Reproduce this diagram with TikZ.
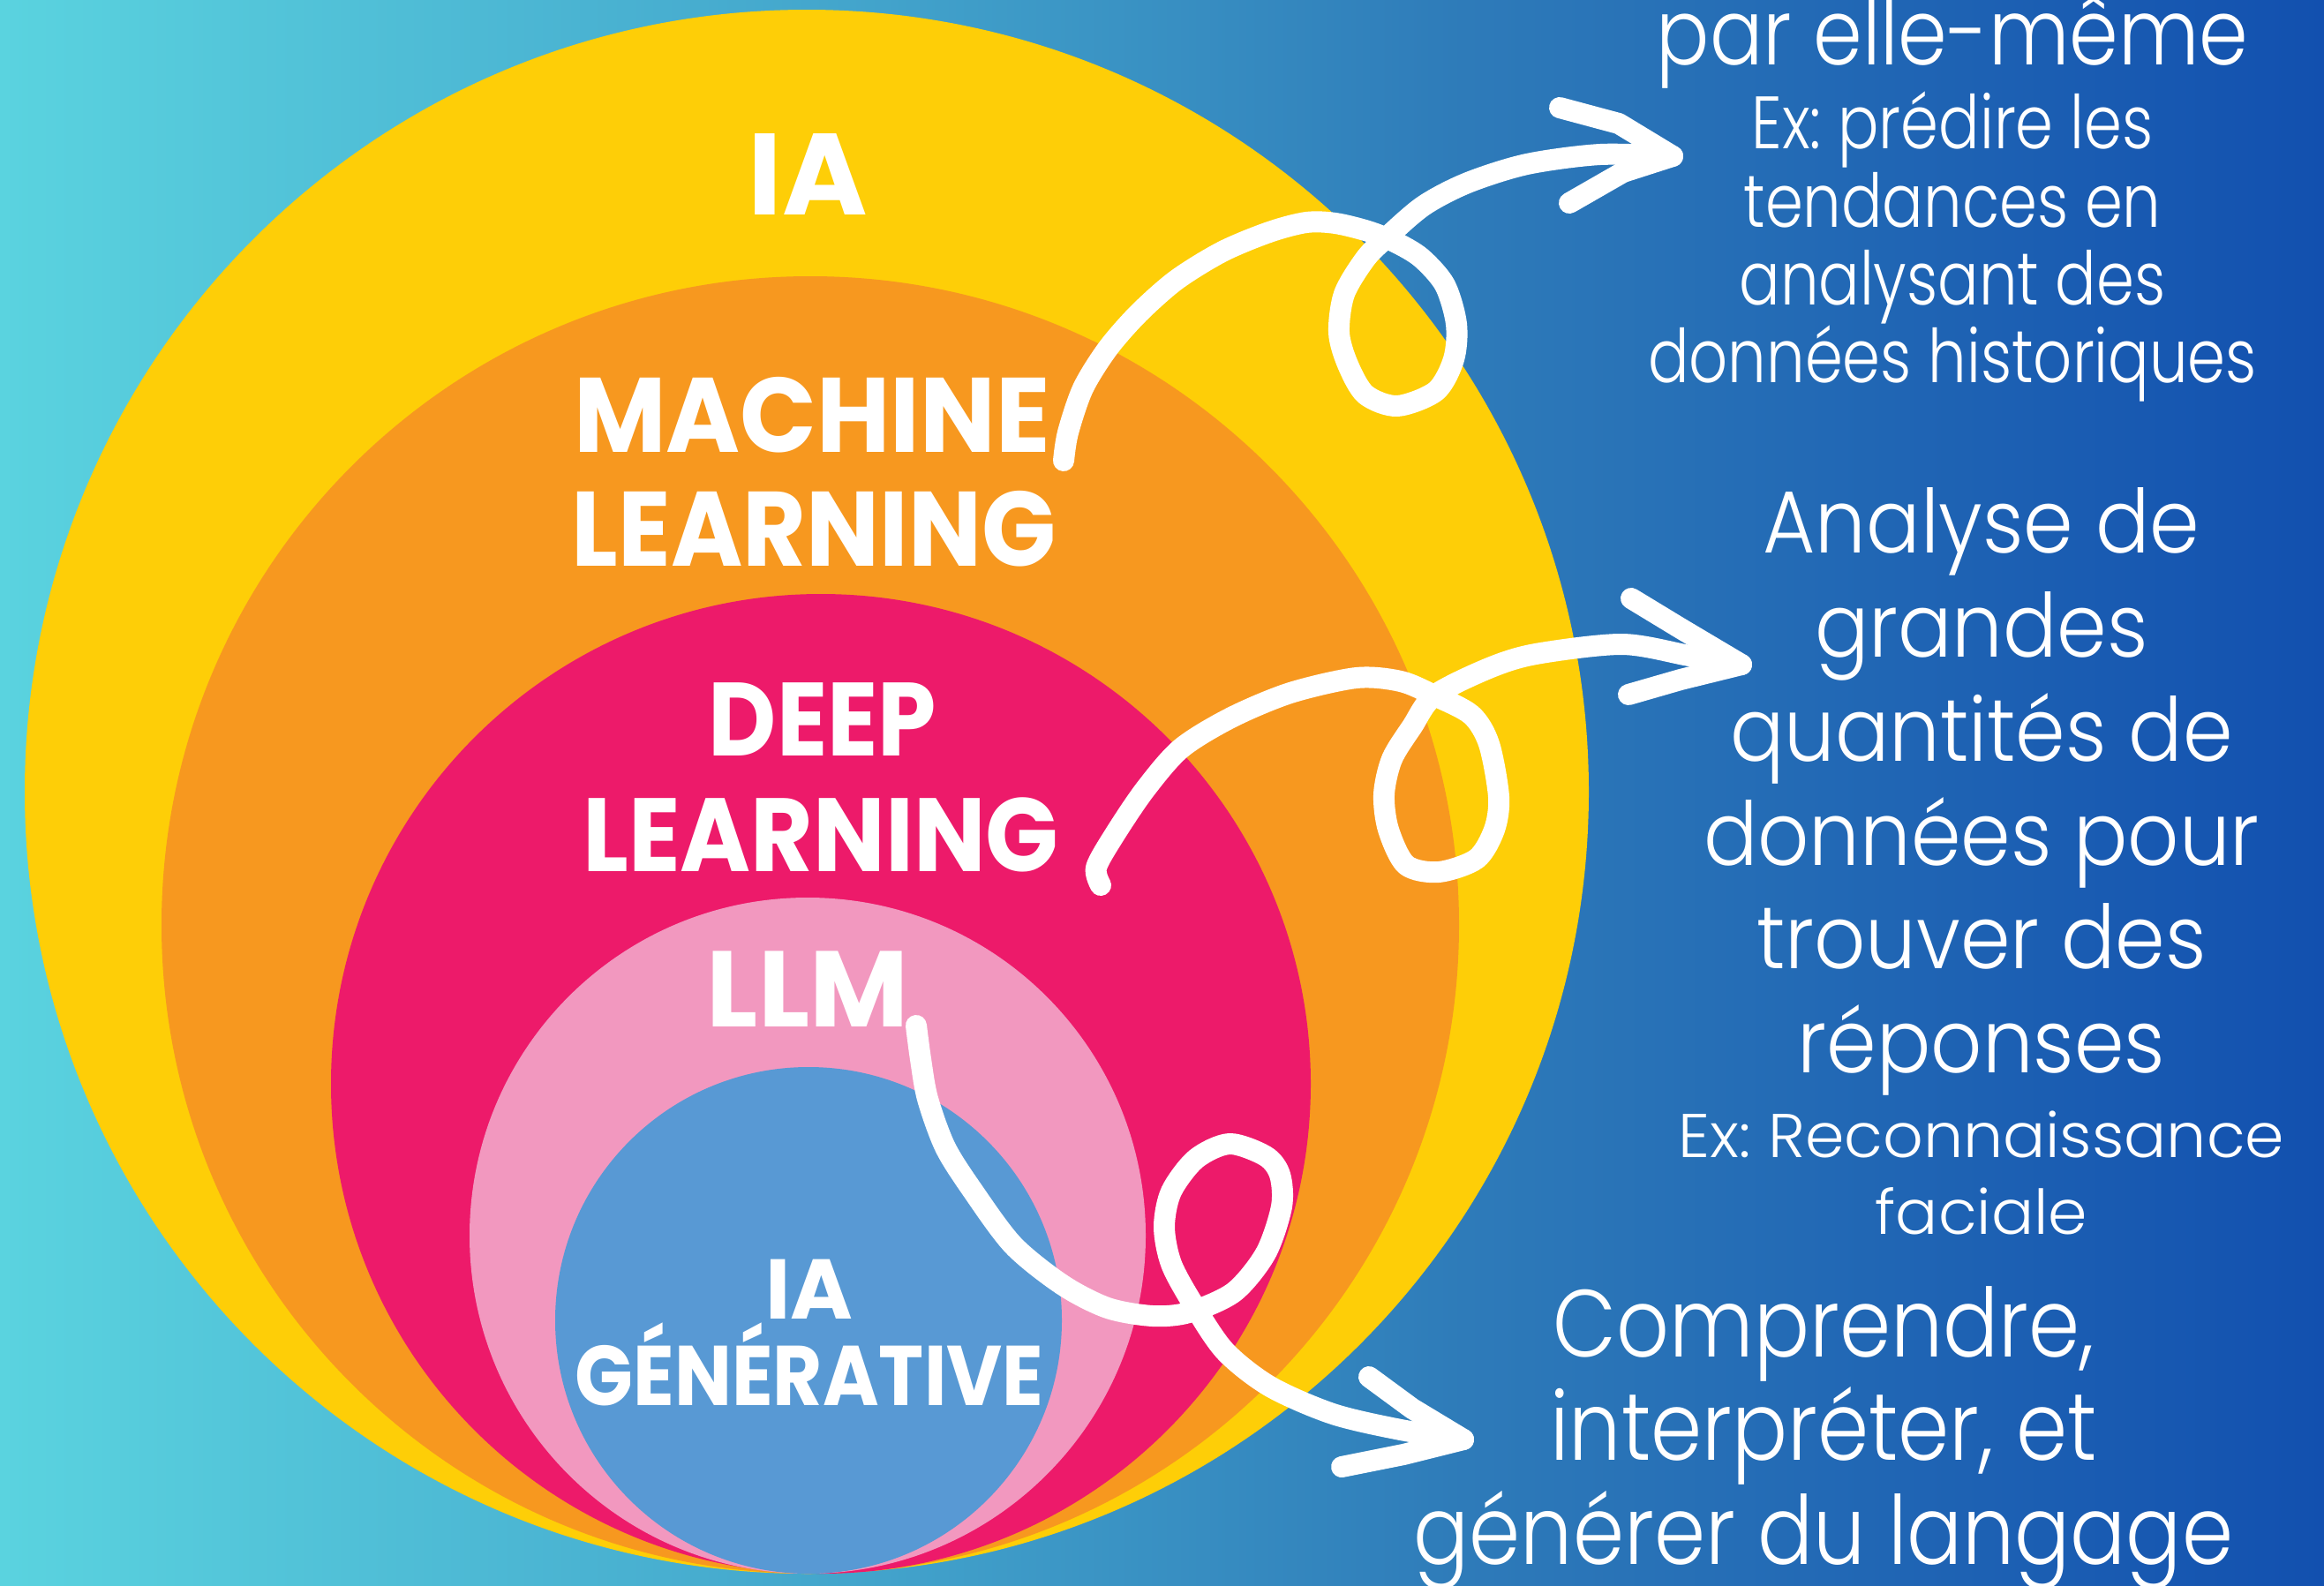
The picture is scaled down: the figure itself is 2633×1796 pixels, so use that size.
\documentclass[tikz,border=0pt]{standalone}
\usepackage{fontspec}
\setmainfont{Poppins}
\frenchspacing
\newfontfamily\narrowfont{Poppins Light}[FakeStretch=0.82]
\newfontfamily\parfont{Poppins Light}[FakeStretch=0.86]
\newfontfamily\comfont{Poppins Light}[FakeStretch=0.865]
\newfontfamily\midfont{Poppins Light}[FakeStretch=0.91]
\newfontfamily\exfont{Poppins Light}[FakeStretch=1.02]
\newfontfamily\labA{Poppins}[FakeStretch=0.95]
\newfontfamily\labB{Poppins}[FakeStretch=0.92]
\newfontfamily\labC{Poppins}[FakeStretch=0.9]
\definecolor{bgA}{HTML}{5AD3DF}
\definecolor{bgB}{HTML}{42A3CB}
\definecolor{bgC}{HTML}{2E7BB9}
\definecolor{bgD}{HTML}{1250AF}
\definecolor{cYellow}{HTML}{FECE07}
\definecolor{cOrange}{HTML}{F7981F}
\definecolor{cMagenta}{HTML}{ED1A6A}
\definecolor{cPink}{HTML}{F298BF}
\definecolor{cBlue}{HTML}{5899D4}
\pgfdeclarehorizontalshading{bgshade}{100bp}{color(0bp)=(bgA); color(25bp)=(bgA); color(44bp)=(bgB); color(56.5bp)=(bgC); color(75bp)=(bgD); color(100bp)=(bgD)}
\begin{document}
\begin{tikzpicture}[x=1pt,y=-1pt,
  disc/.style={circle, inner sep=0pt, draw=none},
  lab/.style={text=white, inner sep=0pt, anchor=base},
  rtxt/.style={text=white, inner sep=0pt, anchor=base},
  arrowline/.style={draw=white, line width=24pt, line cap=round, line join=round}]
\shade[shading=bgshade] (0,0) rectangle (2633,1796);
\useasboundingbox (0,0) rectangle (2633,1796);
% nested circles
\node[disc, fill=cYellow, minimum size=1772pt] (ia) at (914,897) {};
\node[disc, fill=cOrange, minimum size=1470pt] (ml) at (918,1048) {};
\node[disc, fill=cMagenta, minimum size=1110pt] (dl) at (930,1228) {};
\node[disc, fill=cPink, minimum size=766pt] (llm) at (915,1400) {};
\node[disc, fill=cBlue, minimum size=574pt] (gen) at (916,1496) {};
% labels
\node[lab, font=\bfseries\fontsize{131}{140}\selectfont] (tIA) at (915,243) {IA};
\node[lab, font=\labA\bfseries\fontsize{120}{130}\selectfont] (tML1) at (920,512) {MACHINE};
\node[lab, font=\labB\bfseries\fontsize{120}{130}\selectfont] (tML2) at (922,641) {LEARNING};
\node[lab, font=\labC\bfseries\fontsize{118}{130}\selectfont] (tDL1) at (932,856) {DEEP};
\node[lab, font=\labB\bfseries\fontsize{118}{130}\selectfont] (tDL2) at (930,987) {LEARNING};
\node[lab, font=\bfseries\fontsize{122}{130}\selectfont] (tLLM) at (915,1163) {LLM};
\node[lab, font=\bfseries\fontsize{96}{110}\selectfont] (tG1) at (917,1494) {IA};
\node[lab, font=\labC\bfseries\fontsize{96}{110}\selectfont] (tG2) at (917,1592) {GÉNÉRATIVE};
% right texts, block 1
\node[rtxt, font=\parfont\fontsize{104}{110}\selectfont] (b1a) at (2212,73) {par elle-même};
\node[rtxt, font=\narrowfont\fontsize{84}{90}\selectfont] (b1b) at (2212,168) {Ex: prédire les};
\node[rtxt, font=\narrowfont\fontsize{84}{90}\selectfont] (b1c) at (2212,257) {tendances en};
\node[rtxt, font=\narrowfont\fontsize{84}{90}\selectfont] (b1d) at (2212,345) {analysant des};
\node[rtxt, font=\narrowfont\fontsize{84}{90}\selectfont] (b1e) at (2212,433) {données historiques};
% block 2
\node[rtxt, font=\midfont\fontsize{100}{110}\selectfont] (b2a) at (2245,626) {Analyse de};
\node[rtxt, font=\midfont\fontsize{100}{110}\selectfont] (b2b) at (2245,744) {grandes};
\node[rtxt, font=\midfont\fontsize{100}{110}\selectfont] (b2c) at (2245,862) {quantités de};
\node[rtxt, font=\midfont\fontsize{100}{110}\selectfont] (b2d) at (2245,980) {données pour};
\node[rtxt, font=\midfont\fontsize{100}{110}\selectfont] (b2e) at (2245,1097) {trouver des};
\node[rtxt, font=\midfont\fontsize{100}{110}\selectfont] (b2f) at (2245,1215) {réponses};
\node[rtxt, font=\exfont\fontsize{70}{80}\selectfont] (b2g) at (2245,1311) {Ex: Reconnaissance};
\node[rtxt, font=\exfont\fontsize{70}{80}\selectfont] (b2h) at (2245,1398) {faciale};
% block 3
\node[rtxt, font=\comfont\fontsize{108}{116}\selectfont] (b3a) at (2066,1537) {Comprendre,};
\node[rtxt, font=\comfont\fontsize{108}{116}\selectfont] (b3b) at (2066,1654) {interpréter, et};
\node[rtxt, font=\comfont\fontsize{108}{116}\selectfont] (b3c) at (2066,1772) {générer du langage};
% arrow 1 (machine learning)
\coordinate (a1s) at (1205,522);
\coordinate (a1t) at (1895,177);
\coordinate (a1u) at (1767,122);
\coordinate (a1l) at (1778,230);
\draw[arrowline] plot[smooth, tension=0.5] coordinates {(a1s) (1210,490) (1227,440) (1255,395) (1290,355) (1333,317) (1385,285) (1438,263) (1480,252) (1513,253) (1550,262) (1580,274) (1610,292) (1637,323) (1650,367) (1647,407) (1627,443) (1583,460) (1547,447) (1527,413) (1517,377) (1523,333) (1547,293) (1570,270) (1613,233) (1663,207) (1730,186) (1813,175) (a1t)};
\draw[arrowline] (a1u) -- (1834,140) -- (a1t) -- (1839,195) -- (a1l);
% arrow 2 (deep learning)
\coordinate (a2s) at (1247,1003);
\coordinate (a2t) at (1973,753);
\coordinate (a2u) at (1848,678);
\coordinate (a2l) at (1845,787);
\draw[arrowline] plot[smooth, tension=0.5] coordinates {(a2s) (1242,983) (1262,947) (1297,895) (1338,848) (1395,813) (1462,785) (1537,768) (1587,772) (1625,788) (1667,810) (1687,843) (1698,903) (1693,940) (1673,973) (1630,988) (1593,980) (1573,940) (1568,900) (1577,860) (1600,823) (1625,788) (1687,757) (1740,741) (1838,730) (1914,743) (a2t)};
\draw[arrowline] (a2u) -- (1904,712) -- (a2t) -- (1904,770) -- (a2l);
% arrow 3 (LLM)
\coordinate (a3s) at (1038,1162);
\coordinate (a3t) at (1658,1631);
\coordinate (a3u) at (1551,1560);
\coordinate (a3l) at (1520,1662);
\draw[arrowline] plot[smooth, tension=0.5] coordinates {(a3s) (1043,1200) (1051,1245) (1071,1300) (1102,1349) (1148,1411) (1204,1456) (1255,1482) (1306,1491) (1347,1487) (1398,1464) (1434,1420) (1452,1367) (1450,1331) (1434,1310) (1393,1296) (1355,1313) (1327,1350) (1319,1390) (1327,1432) (1352,1478) (1388,1531) (1439,1571) (1510,1602) (1587,1620) (a3t)};
\draw[arrowline] (a3u) -- (1600,1596) -- (a3t) -- (1590,1648) -- (a3l);
\end{tikzpicture}
\end{document}
